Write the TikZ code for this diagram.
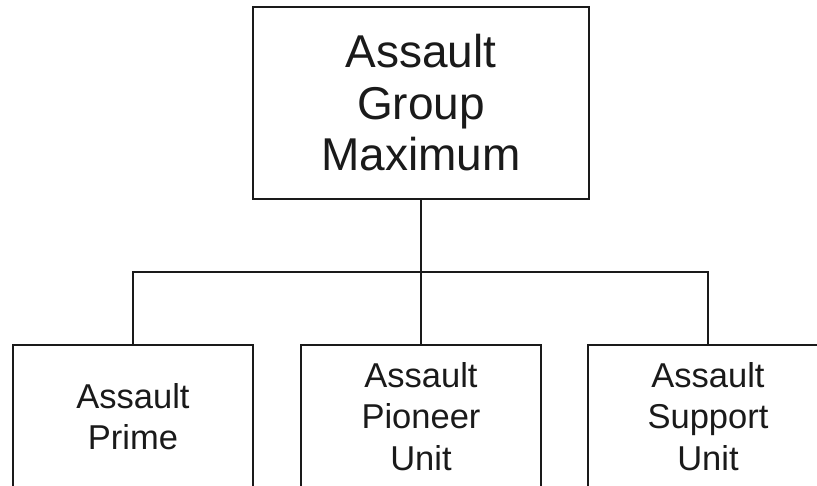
\documentclass[tikz,border=0pt]{standalone}
\usepackage{fontspec}
\setmainfont{Liberation Sans}
\definecolor{ink}{HTML}{1A1A1A}
\begin{document}
\begin{tikzpicture}[x=1pt,y=-1pt,
  orgbox/.style={draw=ink,line width=1.8pt,fill=white,inner sep=0pt,align=center,text=ink},
  bigtext/.style={font=\fontsize{46}{51.5}\selectfont},
  smalltext/.style={font=\fontsize{34.5}{41.5}\selectfont},
  link/.style={draw=ink,line width=1.8pt}]
  \useasboundingbox (0,0) rectangle (817,485);
  \clip (0,0) rectangle (817,485);
  % head of the group
  \node[orgbox,bigtext,minimum width=336pt,minimum height=192pt] (top) at (421,103)
    {Assault\\Group\\Maximum};
  % subordinate units
  \node[orgbox,smalltext,minimum width=240pt,minimum height=143pt] (prime) at (133,416.5)
    {Assault\\Prime};
  \node[orgbox,smalltext,minimum width=240pt,minimum height=143pt] (pioneer) at (421,416.5)
    {Assault\\Pioneer\\Unit};
  \node[orgbox,smalltext,minimum width=240pt,minimum height=143pt] (support) at (708,416.5)
    {Assault\\Support\\Unit};
  % connectors
  \coordinate (bus) at (0,272);
  \draw[link] (top.south) -- (pioneer.north);
  \draw[link] (prime.north) -- (prime.north |- bus) -- (support.north |- bus) -- (support.north);
\end{tikzpicture}
\end{document}
